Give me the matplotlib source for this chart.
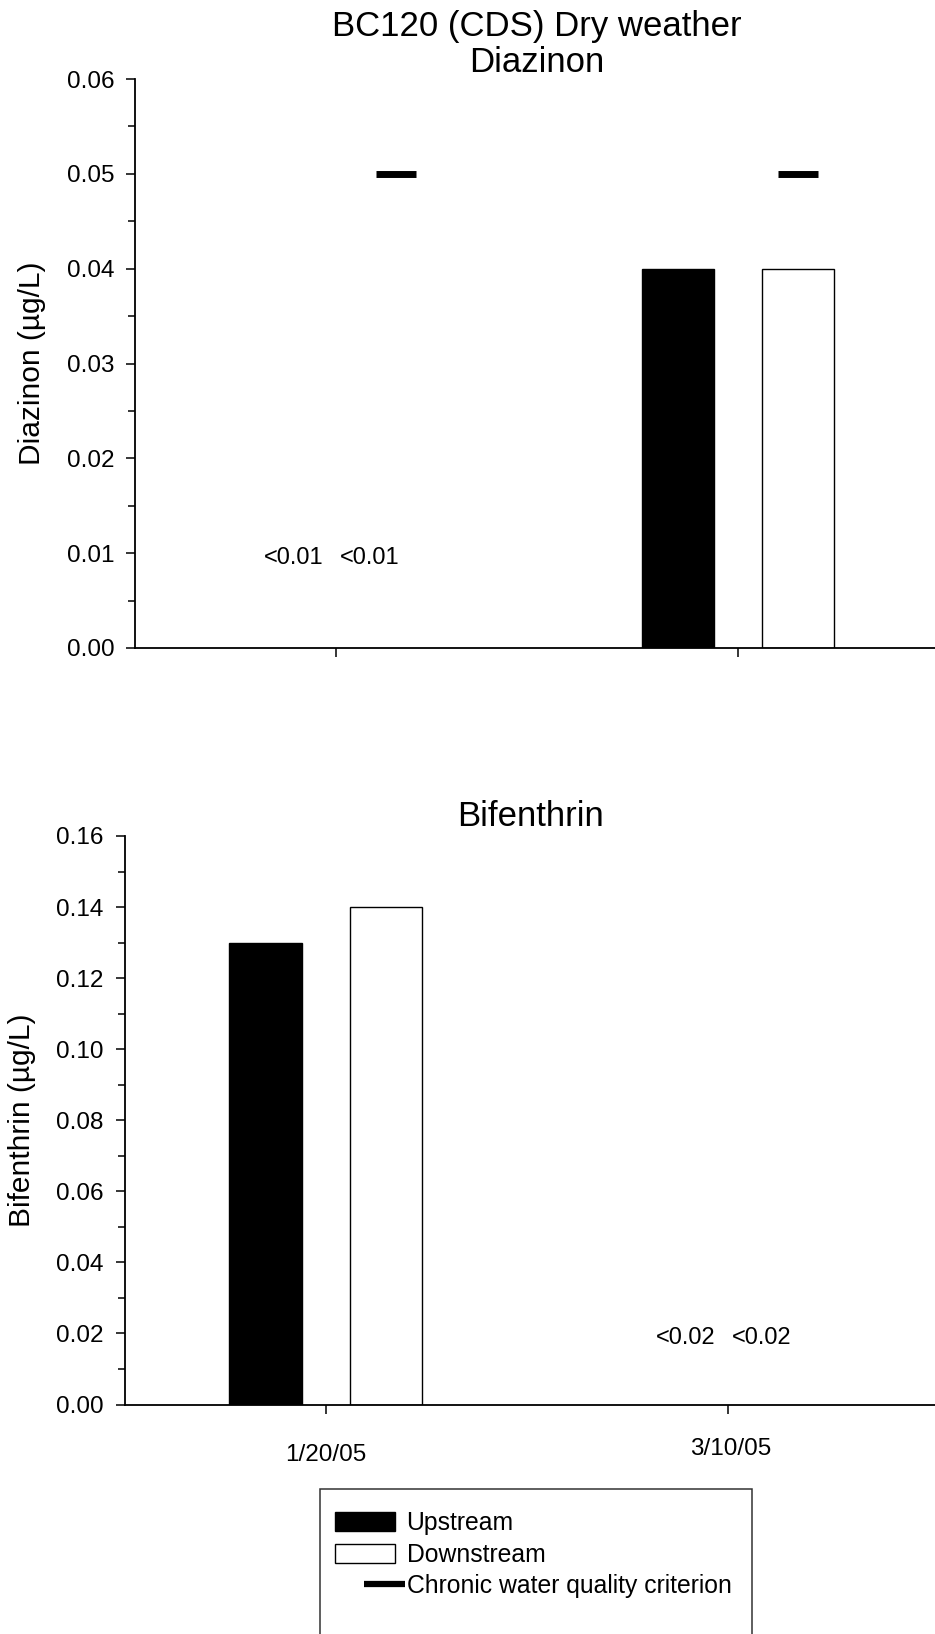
import matplotlib
matplotlib.use("Agg")
import matplotlib.pyplot as plt
import numpy as np
from matplotlib.patches import Patch, Rectangle
from matplotlib.lines import Line2D
from matplotlib.legend_handler import HandlerBase
from matplotlib.ticker import MultipleLocator, FormatStrFormatter
from matplotlib.transforms import ScaledTranslation

plt.rcParams['font.family'] = ['Liberation Sans', 'DejaVu Sans']

# donnees (nan = non detecte)
dates = ['1/20/05', '3/10/05']

diazinon_up = [np.nan, 0.04]
diazinon_down = [np.nan, 0.04]
diazinon_crit = [0.05, 0.05]
diazinon_nd = ['<0.01', None]     # non detecte, limite 0.01
diazinon_limit = 0.01

bifenthrin_up = [0.13, np.nan]
bifenthrin_down = [0.14, np.nan]
bifenthrin_nd = [None, '<0.02']
bifenthrin_limit = 0.02

W, H = 935, 1634
fig = plt.figure(figsize=(W / 100, H / 100), dpi=100)

x = np.arange(len(dates))
off = 0.15
bw = 0.18


def draw_panel(ax, up, down, nd, limit, ymax, step, ylabel):
    ax.bar(x - off, up, bw, color='black', edgecolor='black', lw=1)
    ax.bar(x + off, down, bw, color='white', edgecolor='black', lw=1)
    # valeurs non detectees (texte un peu abaisse)
    shift = ax.transData + ScaledTranslation(0, -3.5 / 72, fig.dpi_scale_trans)
    for i, t in enumerate(nd):
        if t is not None:
            ax.text(x[i] - 0.105, limit, t, ha='center', va='center', fontsize=17, transform=shift)
            ax.text(x[i] + 0.085, limit, t, ha='center', va='center', fontsize=17, transform=shift)
    ax.set_ylim(0, ymax)
    ax.yaxis.set_major_locator(MultipleLocator(step))
    ax.yaxis.set_minor_locator(MultipleLocator(step / 2))
    ax.yaxis.set_major_formatter(FormatStrFormatter('%.2f'))
    ax.set_xticks(x)
    for s in ['top', 'right']:
        ax.spines[s].set_visible(False)
    for s in ['left', 'bottom']:
        ax.spines[s].set_linewidth(1.3)
    ax.tick_params(axis='y', which='major', length=6.5, width=1.1, labelsize=17.5, pad=8.5)
    ax.tick_params(axis='y', which='minor', length=5, width=1.1)
    ax.tick_params(axis='x', length=6.5, width=1.1, labelsize=17.5, pad=22)
    ax.set_ylabel(ylabel, fontsize=21.5)


# Diazinon
ax1 = fig.add_axes([135 / W, 1 - 648 / H, 804 / W, 569 / H])
draw_panel(ax1, diazinon_up, diazinon_down, diazinon_nd, diazinon_limit, 0.06, 0.01, 'Diazinon (µg/L)')
ax1.hlines(diazinon_crit, x + off - 0.05, x + off + 0.05, color='black', lw=5)
ax1.set_xlim(-0.5, 1.5)
ax1.set_xticklabels([])
ax1.set_title('BC120 (CDS) Dry weather\nDiazinon', fontsize=25, pad=1.5, linespacing=1.1)
ax1.yaxis.set_label_coords(-0.111, 0.5)

# Bifenthrin
ax2 = fig.add_axes([124.7 / W, 1 - 1404.5 / H, 812 / W, 568.5 / H])
draw_panel(ax2, bifenthrin_up, bifenthrin_down, bifenthrin_nd, bifenthrin_limit, 0.16, 0.02, 'Bifenthrin (µg/L)')
ax2.set_xlim(-0.5, 1.52)
ax2.set_xticklabels(dates)
ax2.set_title('Bifenthrin', fontsize=25, pad=7.5)
ax2.yaxis.set_label_coords(-0.109, 0.5)
# la 2e date est un peu plus haute dans l'original
lab = ax2.get_xticklabels()[1]
lab.set_transform(lab.get_transform() + ScaledTranslation(2.5 / 72, 4.5 / 72, fig.dpi_scale_trans))


class BoxHandler(HandlerBase):
    # rectangle decale a gauche, un peu plus large
    def create_artists(self, legend, orig_handle, xdescent, ydescent, width, height, fontsize, trans):
        r = Rectangle((-xdescent - 5, -ydescent), width + 2, height,
                      facecolor=orig_handle.get_facecolor(), edgecolor='black', lw=1,
                      transform=trans)
        return [r]


class CriterionHandler(HandlerBase):
    # trait court decale vers le texte, comme dans l'original
    def create_artists(self, legend, orig_handle, xdescent, ydescent, width, height, fontsize, trans):
        y = height / 2 - ydescent
        ln = Line2D([-xdescent + 0.38 * width, -xdescent + 1.1 * width], [y, y],
                    color='black', lw=orig_handle.get_linewidth(), solid_capstyle='butt',
                    transform=trans)
        return [ln]


handles = [
    Patch(facecolor='black', edgecolor='black', label='Upstream'),
    Patch(facecolor='white', edgecolor='black', label='Downstream'),
    Line2D([], [], color='black', lw=4.5, label='Chronic water quality criterion'),
    Line2D([], [], color='none', lw=0, label=' '),
]
leg_top = 1 - 1489 / H
leg = fig.legend(handles=handles, loc='upper left',
                 bbox_to_anchor=(320 / W, leg_top - 0.01, 432 / W, 0.01), mode='expand',
                 borderaxespad=0, fontsize=17.8, frameon=True, fancybox=False,
                 handlelength=2.3, handleheight=0.8, handletextpad=0.3,
                 labelspacing=0.3, borderpad=0.9,
                 handler_map={Patch: BoxHandler(), Line2D: CriterionHandler()})
leg.get_frame().set_edgecolor('black')
leg.get_frame().set_linewidth(1.1)

fig.savefig('out.png', dpi=100)
